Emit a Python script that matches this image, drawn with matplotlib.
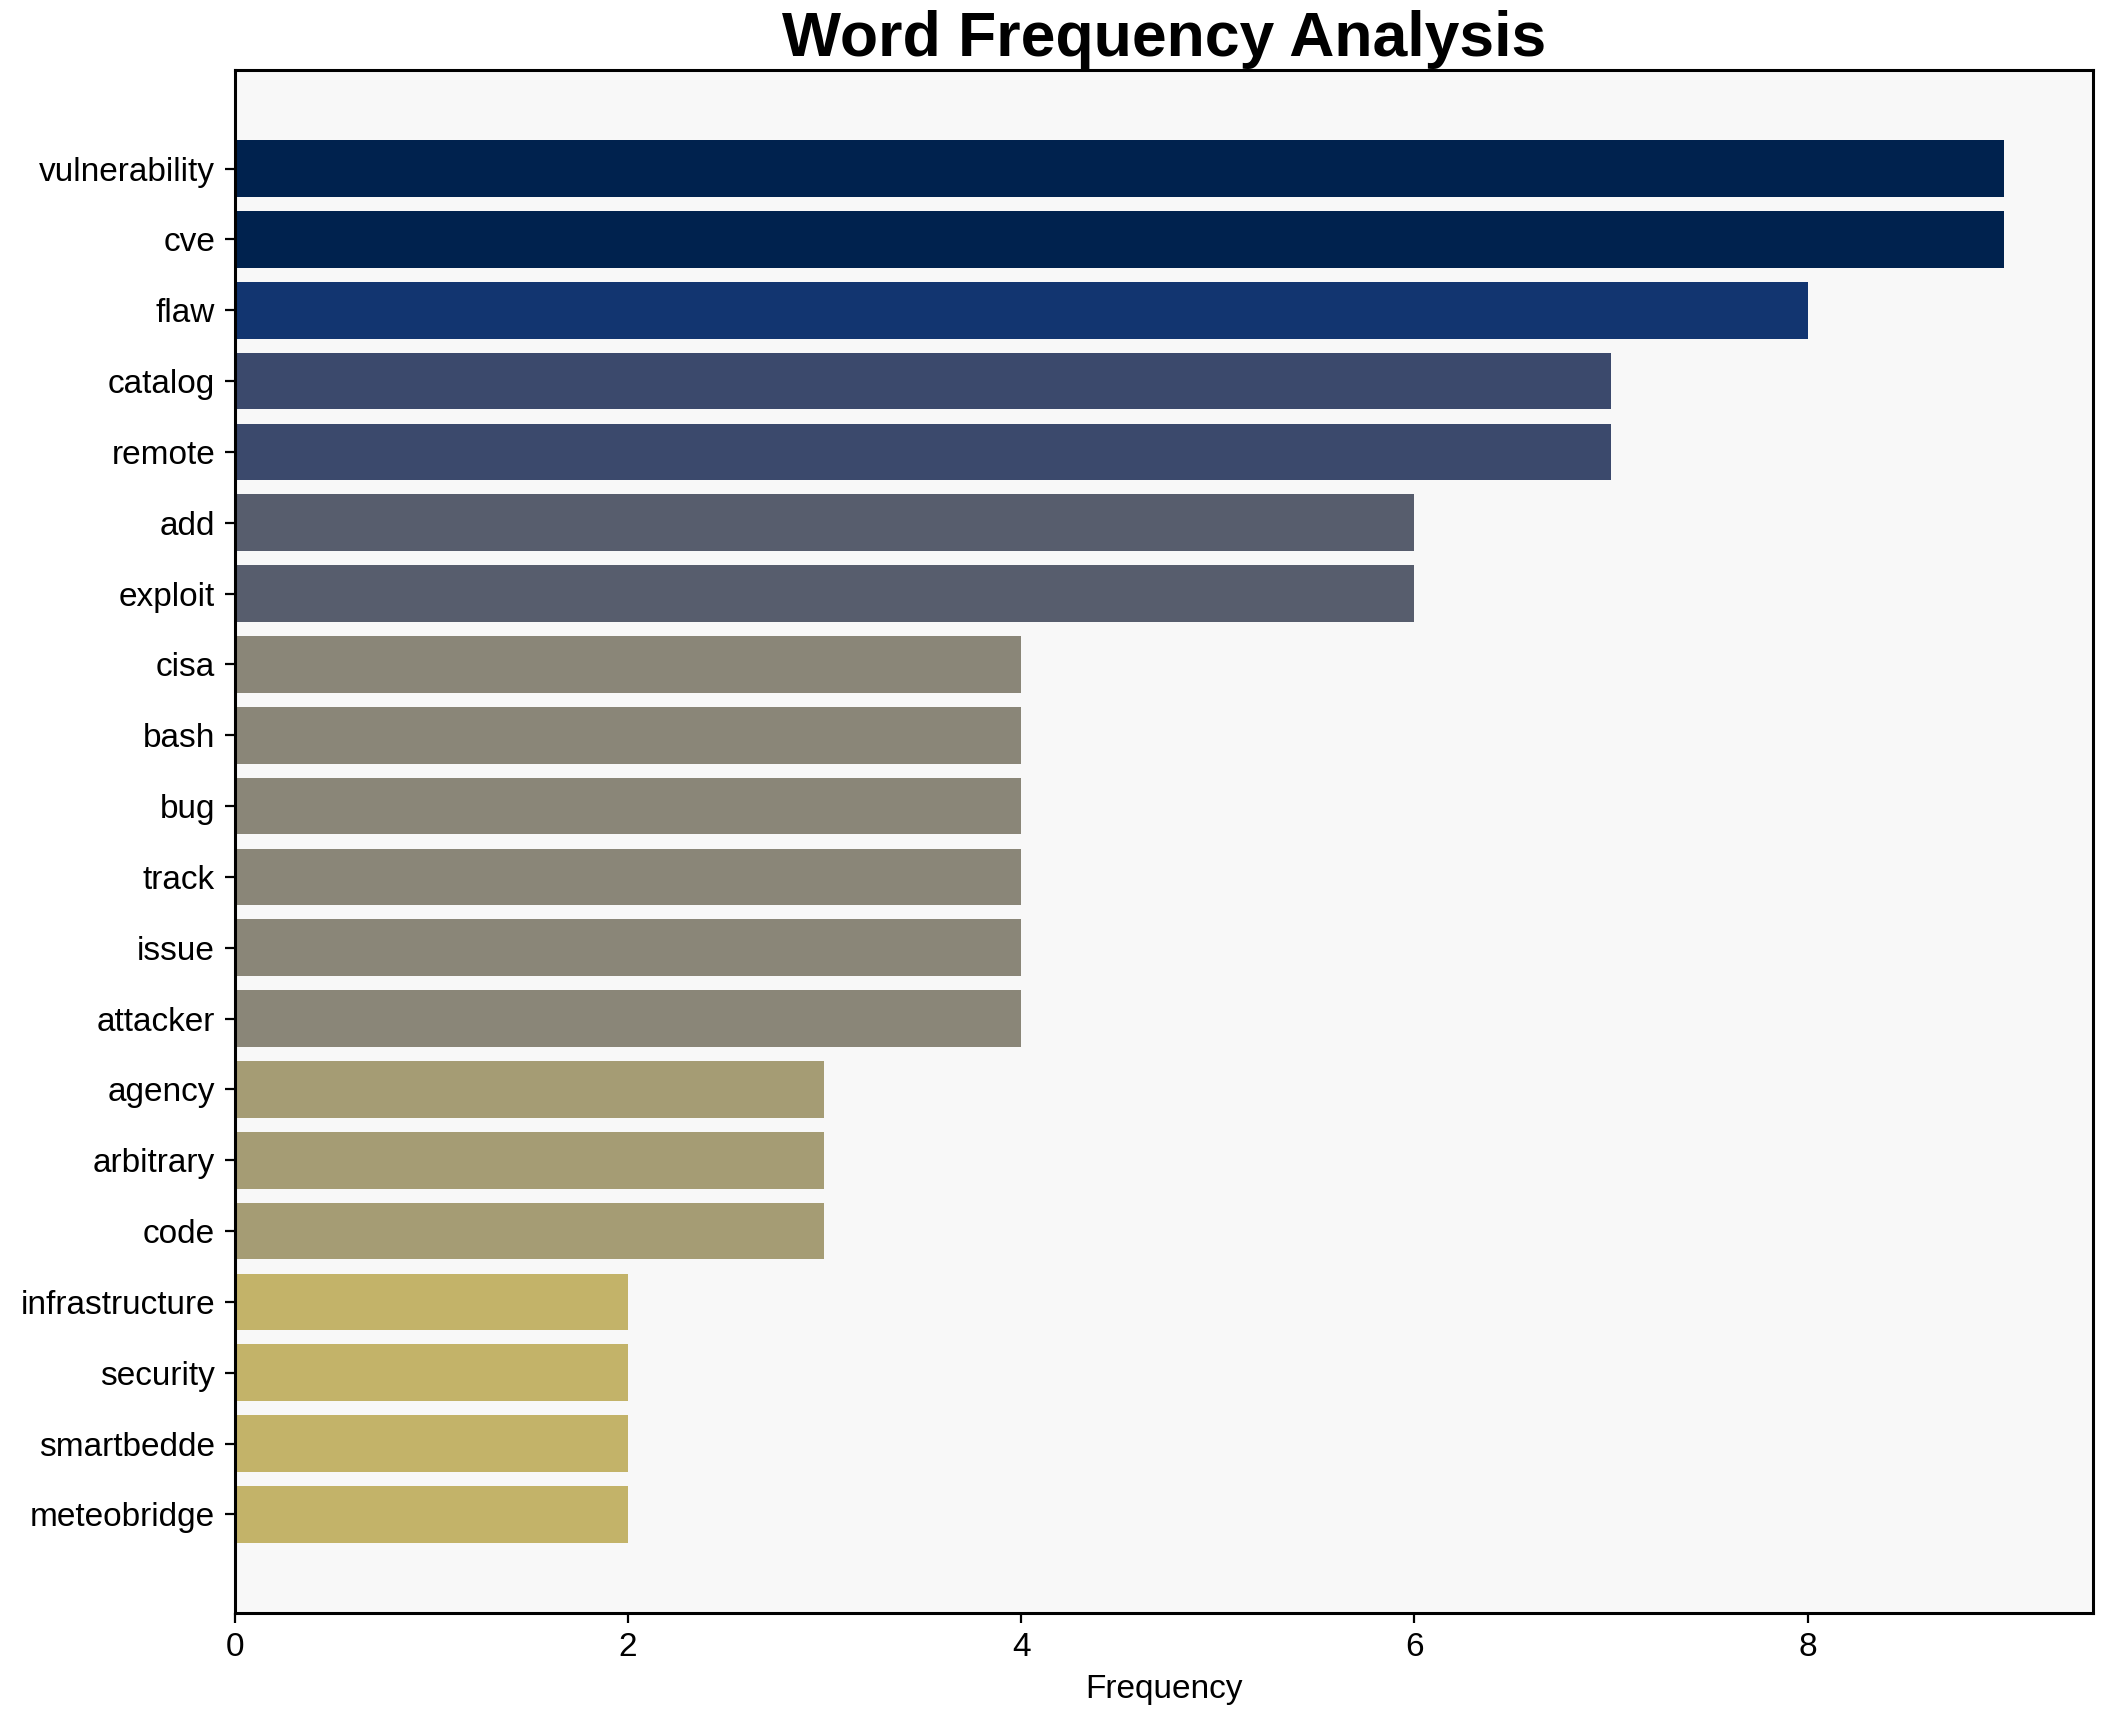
import matplotlib
matplotlib.use("Agg")
import matplotlib.pyplot as plt

words = ["vulnerability", "cve", "flaw", "catalog", "remote", "add", "exploit",
         "cisa", "bash", "bug", "track", "issue", "attacker", "agency",
         "arbitrary", "code", "infrastructure", "security", "smartbedde",
         "meteobridge"]
counts = [9, 9, 8, 7, 7, 6, 6, 4, 4, 4, 4, 4, 4, 3, 3, 3, 2, 2, 2, 2]

plt.rcParams["font.family"] = ["Liberation Sans", "Arial", "DejaVu Sans"]

fig, ax = plt.subplots(figsize=(2113 / 200, 1722 / 200), dpi=200)

# darker colour for the more frequent words
top = max(counts)
colors = [plt.cm.cividis(1 - c / top) for c in counts]
ax.barh(range(len(words)), counts, height=0.8, color=colors)

ax.set_yticks(range(len(words)))
ax.set_yticklabels(words, fontsize=12)
ax.invert_yaxis()
ax.tick_params(axis="x", labelsize=12)
ax.set_xlabel("Frequency", fontsize=12)
ax.set_title("Word Frequency Analysis", fontsize=22.5, fontweight="bold", pad=5)
ax.set_facecolor("#f8f8f8")
for s in ax.spines.values():
    s.set_linewidth(1.1)

fig.subplots_adjust(left=0.111, right=0.9904, top=0.9593, bottom=0.0634)
plt.savefig("out.png", dpi=200)
